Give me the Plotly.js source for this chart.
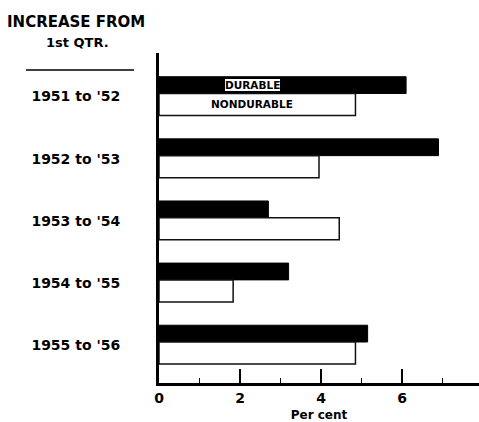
<!DOCTYPE html>
<html><head><meta charset="utf-8">
<script src="https://cdn.plot.ly/plotly-3.0.1.min.js"></script>
<style>html,body{margin:0;padding:0;background:#fff;}#chart{width:479px;height:422px;}</style>
</head><body><div id="chart"></div>
<script>
var periods = ["1951 to '52", "1952 to '53", "1953 to '54", "1954 to '55", "1955 to '56"];
var durable = [6.1, 6.9, 2.7, 3.2, 5.15];
var nondurable = [4.85, 3.95, 4.45, 1.83, 4.85];
var seriesNames = ["DURABLE", "NONDURABLE"];
var xTicks = [0, 2, 4, 6];

var F = "DejaVu Sans";
var traces = [
  {type:'bar', orientation:'h', name:seriesNames[0], y:periods, x:durable,
   offset:-0.27, width:0.27,
   marker:{color:'#000', line:{color:'#000', width:1}}, hoverinfo:'skip'},
  {type:'bar', orientation:'h', name:seriesNames[1], y:periods, x:nondurable,
   offset:0, width:0.355,
   marker:{color:'#fff', line:{color:'#111', width:1.5}}, hoverinfo:'skip'}
];

var layout = {
  width:479, height:422,
  margin:{l:159, r:0, t:53, b:39},
  paper_bgcolor:'#fff', plot_bgcolor:'#fff',
  showlegend:false, barmode:'overlay',
  font:{family:F, color:'#000'},
  xaxis:{range:[0,7.9], showgrid:false, zeroline:false,
    showline:true, linecolor:'#000', linewidth:3,
    tickmode:'array', tickvals:xTicks, ticktext:xTicks.map(String),
    ticks:'inside', ticklen:14, tickwidth:2, tickcolor:'#000',
    minor:{dtick:1, tick0:0, ticks:'inside', ticklen:5, tickwidth:1.5, tickcolor:'#000'},
    tickfont:{family:F, size:14, weight:'bold', color:'#000'},
    title:{text:'Per cent', font:{family:F, size:12, weight:'bold', color:'#000'}, standoff:13}},
  yaxis:{type:'category', categoryorder:'array', categoryarray:periods,
    range:[4.66,-0.652], autorange:false, showgrid:false, zeroline:false,
    showline:true, linecolor:'#000', linewidth:3, ticks:'',
    ticklabelstandoff:33, ticklabelshift:-3,
    tickfont:{family:F, size:14, weight:'bold', color:'#000'}},
  annotations:[
    {xref:'paper', yref:'paper', x:-0.259, y:1.095, xanchor:'center', yanchor:'middle',
     text:'INCREASE FROM', showarrow:false, font:{family:F, size:15, weight:'bold', color:'#000'}},
    {xref:'paper', yref:'paper', x:-0.256, y:1.033, xanchor:'center', yanchor:'middle',
     text:'1st QTR.', showarrow:false, font:{family:F, size:13, weight:'bold', color:'#000'}},
    {xref:'x', yref:'y', x:2.3, y:-0.13, xanchor:'center', yanchor:'middle',
     text:seriesNames[0], showarrow:false, bgcolor:'#fff', bordercolor:'#000', borderwidth:1, borderpad:0,
     font:{family:F, size:10.5, weight:'bold', color:'#000'}},
    {xref:'x', yref:'y', x:2.3, y:0.17, xanchor:'center', yanchor:'middle',
     text:seriesNames[1], showarrow:false,
     font:{family:F, size:10.5, weight:'bold', color:'#000'}}
  ],
  shapes:[
    {type:'line', xref:'paper', yref:'paper', x0:-0.4156, x1:-0.078, y0:0.9485, y1:0.9485,
     line:{color:'#000', width:1.5}}
  ]
};
Plotly.newPlot('chart', traces, layout, {displayModeBar:false, staticPlot:true});
</script></body></html>
